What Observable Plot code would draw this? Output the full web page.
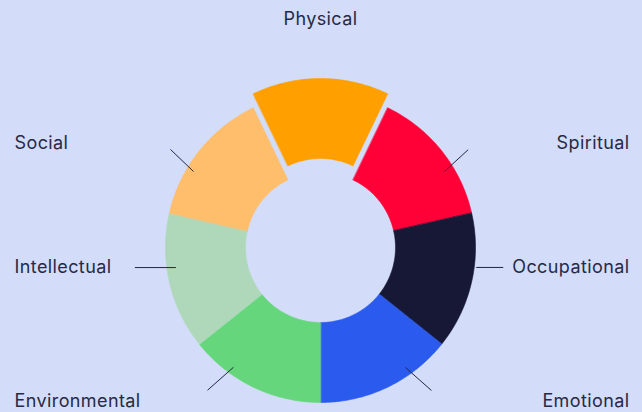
<!DOCTYPE html>
<html><head><meta charset="utf-8">
<script src="https://cdn.jsdelivr.net/npm/d3@7"></script>
<script src="https://cdn.jsdelivr.net/npm/@observablehq/plot@0.6"></script>
<style>
html,body{margin:0;padding:0;background:#d3dcf8;}
#chart{width:642px;height:412px;overflow:hidden;}
svg{display:block;}
</style></head><body><div id="chart"></div>
<script>
// ---- data ----
const categories = ["Physical","Spiritual","Occupational","Emotional","Environmental","Intellectual","Social"];
const values = [1, 1, 1, 1, 1, 1, 1];
const colors = ["#ff9f00","#ff0037","#161835","#2a5bee","#66d67c","#afd8ba","#ffbe6b"];
const explodedSlices = ["Physical"];

// ---- layout ----
const W = 642, H = 412;
const cx = 320, cy = 247, R = 155, r0 = 75, explode = 14;
const rowY = [19, 143, 267, 401];               // label rows (px from top)
const labelLayout = {
  Physical:      {side: "top",   row: 0},
  Spiritual:     {side: "right", row: 1},
  Social:        {side: "left",  row: 1},
  Occupational:  {side: "right", row: 2},
  Intellectual:  {side: "left",  row: 2},
  Emotional:     {side: "right", row: 3},
  Environmental: {side: "left",  row: 3}
};
const leaderLayout = {
  Spiritual:     {angle: 58.5,  r: 145, dx: 24,  dy: 22},
  Social:        {angle: 300.9, r: 148, dx: -23, dy: 22},
  Occupational:  {angle: 97.3,  r: 157, dx: 27,  dy: 0},
  Intellectual:  {angle: 262.1, r: 146, dx: -41, dy: 0},
  Emotional:     {angle: 144.7, r: 147, dx: 26,  dy: -23},
  Environmental: {angle: 216,   r: 148, dx: -26, dy: -23}
};

const rows = categories.map((c, i) => ({name: c, value: values[i]}));
const pie = d3.pie().sort(null).value(d => d.value).startAngle(-Math.PI / 7).endAngle(2 * Math.PI - Math.PI / 7);
const arcs = pie(rows);

// slice outlines (in px units relative to centre, y up)
const slicePts = [];
arcs.forEach(a => {
  const name = a.data.name;
  const mid = (a.startAngle + a.endAngle) / 2;
  const off = explodedSlices.includes(name) ? explode : 0;
  const ox = off * Math.sin(mid), oy = off * Math.cos(mid);
  const N = 60;
  for (let k = 0; k <= N; k++) {
    const t = a.startAngle + (a.endAngle - a.startAngle) * k / N;
    slicePts.push({name, x: ox + R * Math.sin(t), y: oy + R * Math.cos(t)});
  }
  for (let k = N; k >= 0; k--) {
    const t = a.startAngle + (a.endAngle - a.startAngle) * k / N;
    slicePts.push({name, x: ox + r0 * Math.sin(t), y: oy + r0 * Math.cos(t)});
  }
});

const leaders = [];
Object.entries(leaderLayout).forEach(([name, l]) => {
  const t = l.angle * Math.PI / 180;
  const x1 = l.r * Math.sin(t), y1 = l.r * Math.cos(t);
  leaders.push({name, x1, y1, x2: x1 + l.dx, y2: y1 + l.dy});
});

const labels = categories.map(c => {
  const L = labelLayout[c];
  const y = cy - rowY[L.row];
  const x = L.side === "left" ? 14 - cx : L.side === "right" ? 629 - cx : 0;
  const anchor = L.side === "left" ? "start" : L.side === "right" ? "end" : "middle";
  return {name: c, x, y, anchor};
});

const chart = Plot.plot({
  width: W, height: H,
  margin: 0,
  x: {domain: [-cx, W - cx], axis: null},
  y: {domain: [-(H - cy), cy], axis: null},
  color: {domain: categories, range: colors},
  style: {background: "#d3dcf8", fontFamily: "Inter, 'DejaVu Sans', sans-serif", letterSpacing: "0.4px"},
  marks: [
    Plot.line(slicePts, {x: "x", y: "y", z: "name", fill: "name", stroke: "name", strokeWidth: 0.6, curve: "linear-closed"}),
    Plot.link(leaders, {x1: "x1", y1: "y1", x2: "x2", y2: "y2", stroke: "#23263f", strokeWidth: 1}),
    ...["start", "middle", "end"].map(a =>
      Plot.text(labels.filter(d => d.anchor === a), {x: "x", y: "y", text: "name", textAnchor: a, fontSize: 18, fill: "#272a45", lineAnchor: "middle"}))
  ]
});
document.getElementById("chart").append(chart);
</script></body></html>
